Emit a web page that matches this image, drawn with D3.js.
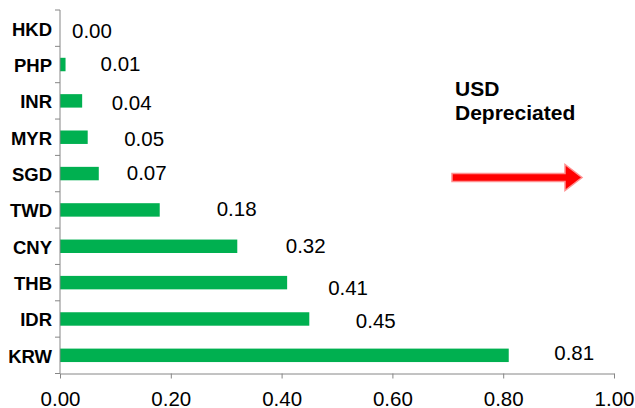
<!DOCTYPE html>
<html>
<head>
<meta charset="utf-8">
<script src="https://cdn.jsdelivr.net/npm/d3@7.9.0/dist/d3.min.js"></script>
<style>
  html, body { margin: 0; padding: 0; background: #fff; }
  svg { display: block; font-family: Arial, 'Liberation Sans', sans-serif; }
</style>
</head>
<body>
<svg id="chart" width="635" height="408"></svg>
<script>
// currencies, top to bottom
const currencies = ['HKD', 'PHP', 'INR', 'MYR', 'SGD', 'TWD', 'CNY', 'THB', 'IDR', 'KRW'];
const changes = [0.00, 0.01, 0.04, 0.05, 0.07, 0.18, 0.32, 0.41, 0.45, 0.81];
const xTicks = [0, 0.2, 0.4, 0.6, 0.8, 1.0];

// hand-placed data label offsets (px from bar end / band centre)
const labelDx = [12, 35, 29.5, 36.5, 28, 57, 48.5, 41, 46.5, 45.5];
const labelDy = [2, -1, 1.5, 1.5, -1, -1, -0.5, 5, 2, -3];

const svg = d3.select('#chart');
const margin = { top: 10, right: 21, bottom: 34.5, left: 60 };
const width = 635, height = 408;

const x = d3.scaleLinear()
  .domain([0, 1])
  .range([margin.left, width - margin.right]);

const y = d3.scaleBand()
  .domain(currencies)
  .range([margin.top, height - margin.bottom]);

const axisColor = '#868686';

// bars
const barH = y.bandwidth() * 0.37;
svg.append('g')
  .selectAll('rect')
  .data(currencies)
  .join('rect')
    .attr('x', x(0))
    .attr('y', d => y(d) + y.bandwidth() / 2 - barH / 2)
    .attr('width', (d, i) => x(changes[i]) - x(0))
    .attr('height', barH)
    .attr('fill', '#00b050');

// x axis
const xAxis = svg.append('g')
  .attr('transform', `translate(0,${height - margin.bottom})`)
  .call(d3.axisBottom(x).tickValues(xTicks).tickFormat(d3.format('.2f')).tickSizeInner(5).tickSizeOuter(0));
xAxis.select('.domain').attr('stroke', axisColor);
xAxis.selectAll('.tick line').attr('stroke', axisColor);
xAxis.selectAll('.tick text')
  .attr('fill', '#000')
  .attr('font-size', 20.5)
  .attr('font-family', null)
  .attr('dy', null)
  .attr('y', 32);

// y axis with tick marks between categories
const yAxis = svg.append('g')
  .attr('transform', `translate(${margin.left},0)`);
yAxis.append('line')
  .attr('x1', 0).attr('x2', 0)
  .attr('y1', margin.top).attr('y2', height - margin.bottom)
  .attr('stroke', axisColor);
const bounds = currencies.map(d => y(d)).concat([y.range()[1]]);
yAxis.selectAll('line.tk')
  .data(bounds)
  .join('line')
    .attr('class', 'tk')
    .attr('x1', -5).attr('x2', 0)
    .attr('y1', d => d).attr('y2', d => d)
    .attr('stroke', axisColor);
yAxis.selectAll('text')
  .data(currencies)
  .join('text')
    .attr('x', -8)
    .attr('y', d => y(d) + y.bandwidth() / 2 + 7.5)
    .attr('text-anchor', 'end')
    .attr('font-size', 18.5)
    .attr('font-weight', 'bold')
    .text(d => d);

// data labels
svg.append('g')
  .selectAll('text')
  .data(currencies)
  .join('text')
    .attr('x', (d, i) => x(changes[i]) + labelDx[i])
    .attr('y', (d, i) => y(d) + y.bandwidth() / 2 + labelDy[i] + 7.5)
    .attr('font-size', 20.5)
    .text((d, i) => d3.format('.2f')(changes[i]));

// annotation
const note = svg.append('text')
  .attr('x', 455)
  .attr('font-size', 21)
  .attr('font-weight', 'bold');
note.append('tspan').attr('x', 455).attr('y', 96).text('USD');
note.append('tspan').attr('x', 455).attr('y', 120).text('Depreciated');

// red arrow
svg.append('path')
  .attr('d', 'M452,173.5 L565,173.5 L565,164.5 L582,177.5 L565,190.5 L565,181.5 L452,181.5 Z')
  .attr('fill', '#ff0000')
  .attr('stroke', '#ff9090')
  .attr('stroke-width', 1.5)
  .attr('stroke-linejoin', 'miter');
</script>
</body>
</html>
